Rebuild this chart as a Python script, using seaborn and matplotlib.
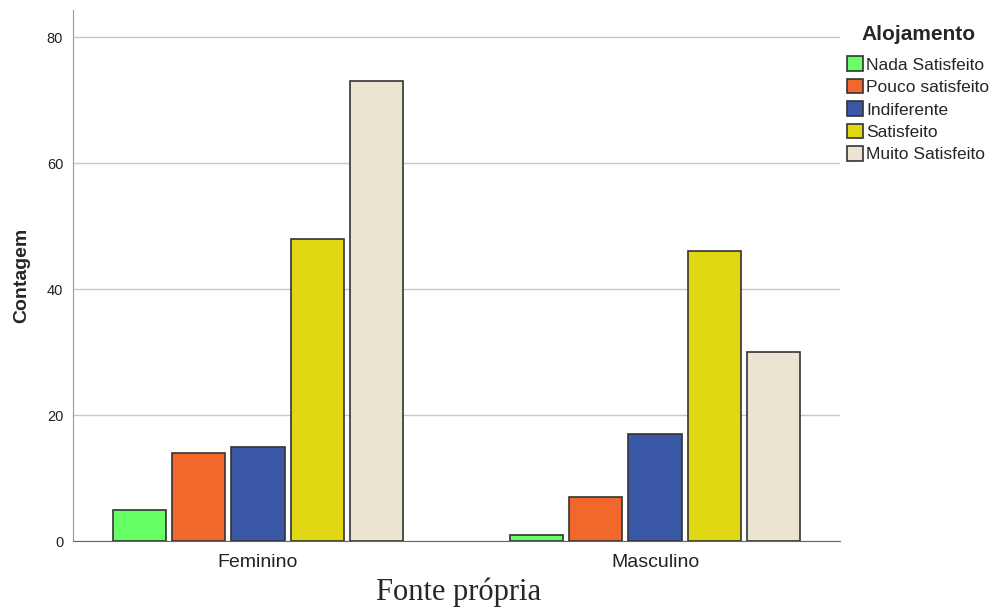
import pandas as pd
import matplotlib.pyplot as plt
import seaborn as sns

generos = ["Feminino", "Masculino"]
niveis = ["Nada Satisfeito", "Pouco satisfeito", "Indiferente", "Satisfeito", "Muito Satisfeito"]
feminino = [5, 14, 15, 48, 73]
masculino = [1, 7, 17, 46, 30]
cores = ["#66FF66", "#F2672B", "#3B58A6", "#E1D712", "#EAE4D0"]

df = pd.DataFrame({
    "Sexo": [g for g in generos for _ in niveis],
    "Alojamento": niveis * 2,
    "Contagem": feminino + masculino,
})

sns.set_style("white")
plt.rcParams["font.family"] = ["Liberation Sans", "DejaVu Sans"]

fig = plt.figure(figsize=(9.9, 6.07), dpi=100)
ax = fig.add_axes([0.0737, 0.1087, 0.7748, 0.8748])

sns.barplot(data=df, x="Sexo", y="Contagem", hue="Alojamento", order=generos,
            hue_order=niveis, palette=cores, width=0.745, gap=0.1,
            edgecolor="#333333", linewidth=1.2, saturation=1, ax=ax, zorder=3)

ax.set_ylim(0, 84.3)
ax.set_xlim(-0.466, 1.466)
ax.set_yticks([0, 20, 40, 60, 80])
ax.yaxis.grid(True, color="#C8C8C8", linewidth=1, zorder=0)
ax.tick_params(axis="y", labelsize=10.5, length=0, pad=7, colors="#222222")
ax.tick_params(axis="x", labelsize=14, length=0, pad=9, colors="#222222")
ax.set_xlabel("")
ax.set_ylabel("Contagem", fontsize=14, fontweight="bold", labelpad=12)
for s in ["top", "right"]:
    ax.spines[s].set_visible(False)
ax.spines["left"].set_color("#999999")
ax.spines["bottom"].set_color("#666666")

leg = ax.legend(title="Alojamento", loc="upper left", bbox_to_anchor=(1.0, 0.985),
                frameon=False, fontsize=12.5, handlelength=0.9, handleheight=0.9,
                handletextpad=0.2, labelspacing=0.36, borderaxespad=0)
leg.get_title().set_fontweight("bold")
leg.get_title().set_fontsize(15)
leg._legend_box.sep = 9

fig.text(0.463, 0.012, "Fonte própria", ha="center", va="baseline", fontsize=22,
         family=["Liberation Serif", "DejaVu Serif"])

fig.savefig("out.png", dpi=100)
